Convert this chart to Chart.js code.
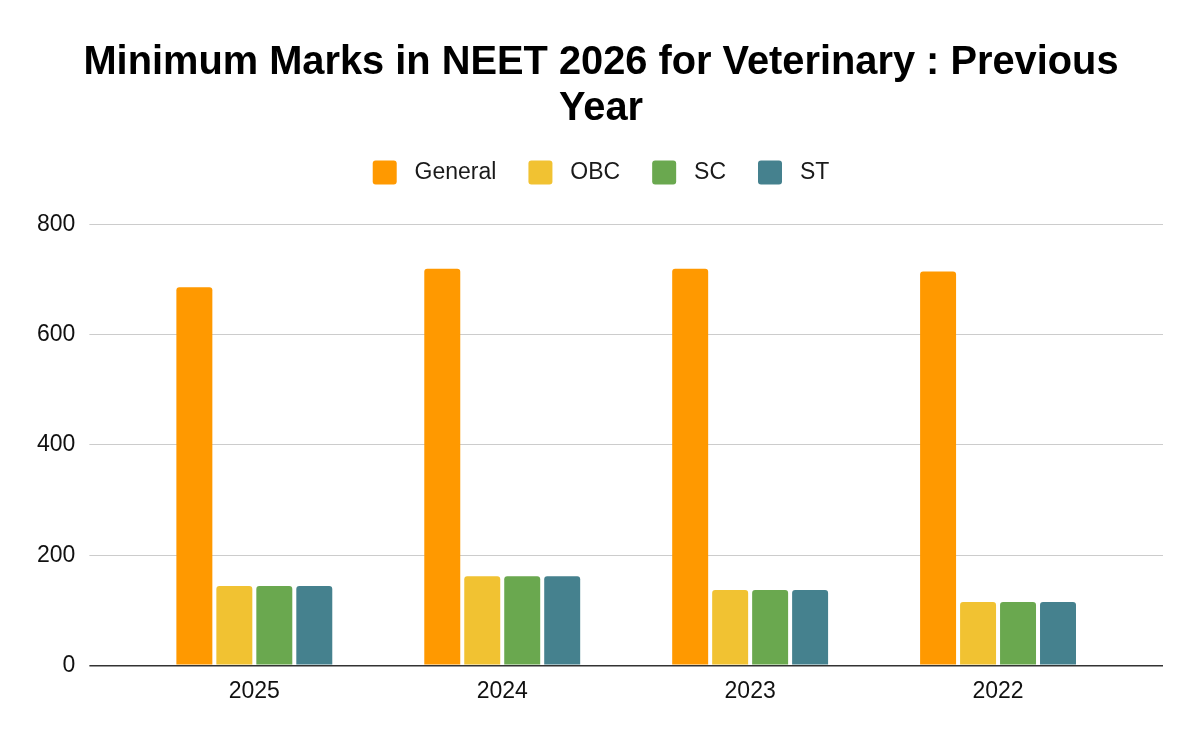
<!DOCTYPE html>
<html lang="en">
<head>
    <meta charset="UTF-8">
    <title>Minimum Marks in NEET 2026 for Veterinary</title>
    <script src="https://cdn.jsdelivr.net/npm/chart.js"></script>
    <style>
        html, body {
            margin: 0;
            padding: 0;
            background: #ffffff;
        }
        .wrap {
            width: 1200px;
            height: 742px;
        }
    </style>
</head>
<body>
    <div class="wrap">
        <canvas id="myChart" width="1200" height="742"></canvas>
    </div>

    <script>
        const years = ['2025', '2024', '2023', '2022'];
        const general = [686, 720, 720, 715];
        const obc = [144, 162, 137, 115];
        const sc = [144, 162, 137, 115];
        const st = [144, 162, 137, 115];
        const yTicks = [0, 200, 400, 600, 800];

        const FONT = '"Liberation Sans", Arial, sans-serif';
        const gridColor = (c) => (c.tick && c.tick.value === 0) ? '#333333' : '#cccccc';
        const gridWidth = (c) => (c.tick && c.tick.value === 0) ? 1.6 : 1;

        function series(label, data, color) {
            return {
                label: label,
                data: data,
                backgroundColor: color,
                borderRadius: 3,
                borderSkipped: 'start',
                categoryPercentage: 0.645,
                barPercentage: 0.9
            };
        }

        // leave more room under the legend, like the original
        const legendGap = {
            id: 'legendGap',
            beforeInit(chart) {
                const fit = chart.legend.fit;
                chart.legend.fit = function () {
                    fit.bind(chart.legend)();
                    this.height += 30;
                };
            }
        };

        const ctx = document.getElementById('myChart').getContext('2d');
        const chart = new Chart(ctx, {
            type: 'bar',
            data: {
                labels: years,
                datasets: [
                    series('General', general, '#ff9900'),
                    series('OBC', obc, '#f1c232'),
                    series('SC', sc, '#6aa84f'),
                    series('ST', st, '#45818e')
                ]
            },
            plugins: [legendGap],
            options: {
                responsive: false,
                animation: false,
                layout: {
                    padding: { top: 30, left: 23, right: 21, bottom: 25 }
                },
                plugins: {
                    title: {
                        display: true,
                        text: ['Minimum Marks in NEET 2026 for Veterinary : Previous', 'Year'],
                        color: '#000000',
                        font: { family: FONT, size: 39.8, weight: 'bold', lineHeight: 1.15 },
                        padding: { top: 10, bottom: -3 }
                    },
                    legend: {
                        position: 'top',
                        labels: {
                            color: '#1a1a1a',
                            font: { family: FONT, size: 23 },
                            boxWidth: 24,
                            boxHeight: 24,
                            useBorderRadius: true,
                            borderRadius: 3,
                            padding: 32,
                            generateLabels(chart) {
                                const items = Chart.defaults.plugins.legend.labels.generateLabels(chart);
                                items.forEach(it => { it.text = ' ' + it.text; });
                                return items;
                            }
                        }
                    },
                    tooltip: { enabled: false }
                },
                scales: {
                    x: {
                        grid: { display: false, drawTicks: false },
                        border: { display: false },
                        ticks: {
                            color: '#111111',
                            padding: 12,
                            font: { family: FONT, size: 23 }
                        }
                    },
                    y: {
                        min: yTicks[0],
                        max: yTicks[yTicks.length - 1],
                        border: { display: false },
                        grid: {
                            color: gridColor,
                            lineWidth: gridWidth,
                            tickColor: gridColor,
                            tickWidth: gridWidth,
                            tickLength: 41
                        },
                        ticks: {
                            stepSize: 200,
                            color: '#111111',
                            padding: 14,
                            font: { family: FONT, size: 23 }
                        }
                    },
                    y2: {
                        position: 'right',
                        min: yTicks[0],
                        max: yTicks[yTicks.length - 1],
                        border: { display: false },
                        grid: {
                            drawOnChartArea: false,
                            color: gridColor,
                            lineWidth: gridWidth,
                            tickColor: gridColor,
                            tickWidth: gridWidth,
                            tickLength: 41
                        },
                        ticks: { stepSize: 200, display: false },
                        afterFit(scale) {
                            scale.width += 16;
                        }
                    }
                }
            }
        });
    </script>
</body>
</html>
